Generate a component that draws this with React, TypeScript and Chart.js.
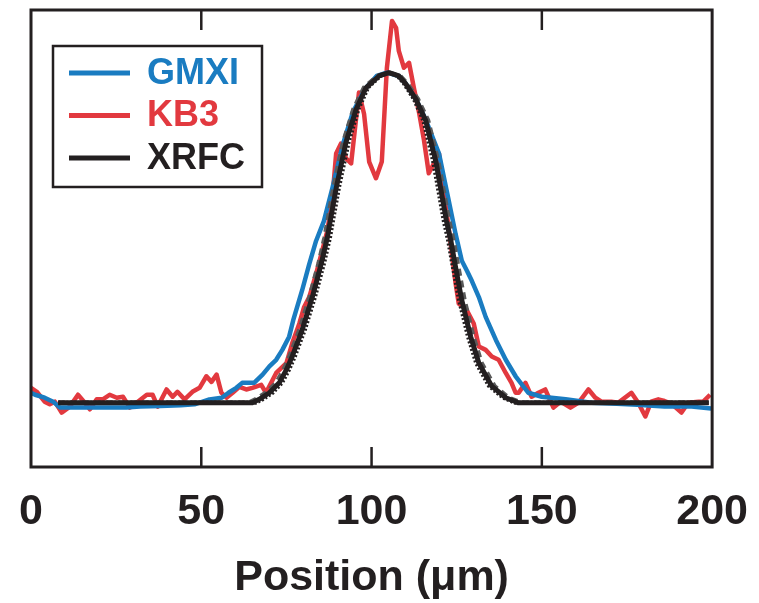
import React, { useEffect, useRef } from 'react';
import { Chart, registerables } from 'chart.js';

Chart.register(...registerables);

// x-axis tick values (µm)
const xTickValues = [0, 50, 100, 150, 200];

// GMXI profile
const gmxiX = [0, 1.2, 4, 6.5, 8.5, 12, 20, 28, 32, 38, 44, 48, 52.4, 56, 58, 60.3, 62, 65.5, 68, 70, 72, 73.8, 75.8, 77, 79.6, 81.7, 83.7, 86, 88.5, 91.5, 94.5, 98, 101.5, 104.5, 108, 110, 113, 116, 119.8, 122.5, 124.7, 126.5, 128, 129.4, 131.5, 133.5, 136.5, 139.4, 142.3, 146, 150, 157, 164.5, 172, 178, 186, 194, 199.7];
const gmxiY = [0.03, 0.024, 0.015, 0.003, -0.015, -0.015, -0.015, -0.015, -0.012, -0.01, -0.008, -0.005, 0.01, 0.015, 0.03, 0.045, 0.06, 0.06, 0.085, 0.11, 0.13, 0.16, 0.2, 0.25, 0.34, 0.42, 0.49, 0.55, 0.65, 0.78, 0.88, 0.95, 0.99, 1.0, 0.99, 0.967, 0.92, 0.855, 0.755, 0.62, 0.51, 0.43, 0.4, 0.37, 0.32, 0.26, 0.19, 0.13, 0.08, 0.03, 0.018, 0.01, 0, -0.003, -0.006, -0.012, -0.012, -0.018];

// KB3 profile
const kb3X = [0, 1.7, 4, 5.5, 7, 9, 11.4, 13.8, 15.8, 17.3, 19.3, 21.1, 23.1, 25.2, 27, 29, 31, 34, 35.7, 37.2, 39.8, 41.6, 43, 45.1, 47.4, 49.5, 51.5, 53, 54.5, 55.9, 57.4, 59.2, 61.2, 63.2, 65, 67.6, 69, 72, 75, 76.7, 78.8, 80.2, 81.7, 83.7, 85.5, 87, 88.5, 89.6, 91, 92.5, 94, 96.3, 97.8, 99.3, 101.3, 103, 104.5, 106, 107.2, 108, 109.5, 111, 112.4, 114, 115.4, 116.8, 118.3, 119.8, 121.5, 123, 124.7, 125.6, 127.7, 130, 131.5, 133.5, 135.3, 137.3, 139.4, 141.1, 142.3, 143.2, 145.2, 147, 149, 151, 153.4, 155.5, 158.4, 160.8, 163.7, 165.7, 167.5, 170.4, 172.5, 176.3, 178.3, 180.4, 182.1, 184.2, 186, 188, 191, 193, 196, 197.4, 199.4];
const kb3Y = [0.045, 0.033, 0.003, -0.005, 0.003, -0.03, -0.012, 0.024, 0, -0.02, 0.01, 0.01, 0.024, 0.015, 0.018, -0.015, 0, 0.024, 0.024, -0.012, 0.04, 0.018, 0.033, 0.01, 0.033, 0.045, 0.08, 0.063, 0.085, 0.03, 0.015, 0.03, 0.048, 0.04, 0.045, 0.054, 0.03, 0.09, 0.12, 0.18, 0.24, 0.29, 0.32, 0.39, 0.46, 0.52, 0.62, 0.755, 0.785, 0.74, 0.725, 0.94, 0.875, 0.73, 0.68, 0.73, 1.015, 1.157, 1.136, 1.066, 1.015, 1.03, 0.955, 0.876, 0.795, 0.695, 0.725, 0.755, 0.62, 0.5, 0.36, 0.3, 0.285, 0.24, 0.17, 0.16, 0.14, 0.13, 0.09, 0.06, 0.03, 0.03, 0.06, 0.018, 0.03, 0.04, -0.015, 0.003, -0.015, 0, 0.04, 0.015, 0.003, 0.003, 0, 0.03, 0, -0.042, 0.003, 0.01, 0.005, -0.003, -0.03, 0, 0.003, 0.003, 0.024];

// XRFC profile
const xrfcX = [8, 20, 40, 60, 65, 67, 70, 72.9, 75, 76.7, 79.6, 82.6, 85.2, 87, 89.6, 92.5, 95.5, 98.4, 102.2, 105.1, 108, 110, 113, 115.9, 118.9, 122, 123.3, 124.5, 126.5, 129.1, 131.5, 135.3, 139.4, 143, 160, 180, 199];
const xrfcY = [0, 0, 0, 0, 0, 0.01, 0.03, 0.06, 0.1, 0.14, 0.22, 0.32, 0.42, 0.5, 0.65, 0.79, 0.89, 0.955, 0.99, 1.0, 0.99, 0.967, 0.92, 0.855, 0.73, 0.55, 0.49, 0.42, 0.31, 0.2, 0.12, 0.05, 0.015, 0, 0, 0, 0];

// Fit curves (dashed grey, dotted black)
const fitDashX = [8, 64, 66, 69, 72, 74.2, 75.9, 78.8, 81.8, 84.4, 86.2, 88.8, 91.7, 94.7, 97.8, 101.8, 105.1, 108.4, 110.5, 113.6, 116.6, 119.6, 122.8, 124.1, 125.3, 127.3, 129.9, 132.3, 136.1, 140.2, 144, 199];
const fitDashY = [0, 0, 0.01, 0.03, 0.06, 0.1, 0.14, 0.22, 0.32, 0.42, 0.5, 0.65, 0.79, 0.89, 0.955, 0.99, 1.0, 0.99, 0.967, 0.92, 0.855, 0.73, 0.55, 0.49, 0.42, 0.31, 0.2, 0.12, 0.05, 0.015, 0, 0];
const fitDotX = [8, 66, 68, 71, 73.7, 75.8, 77.5, 80.4, 83.4, 86, 87.8, 90.4, 93.3, 96.2, 99, 102.6, 105.1, 107.6, 109.5, 112.4, 115.2, 118.1, 121.2, 122.5, 123.7, 125.7, 128.3, 130.7, 134.5, 138.6, 142, 199];
const fitDotY = [0, 0, 0.01, 0.03, 0.06, 0.1, 0.14, 0.22, 0.32, 0.42, 0.5, 0.65, 0.79, 0.89, 0.955, 0.99, 1.0, 0.99, 0.967, 0.92, 0.855, 0.73, 0.55, 0.49, 0.42, 0.31, 0.2, 0.12, 0.05, 0.015, 0, 0];

const legendLabels = ['GMXI', 'KB3', 'XRFC'];
const legendColors = ['#1a7cc1', '#e2393f', '#231f20'];

const pts = (xs: number[], ys: number[]) => xs.map((x, i) => ({ x, y: ys[i] }));

const INK = '#231f20';
const AXIS_FONT = '"Liberation Sans", Arial, Helvetica, sans-serif';

const framePlugin = {
  id: 'frameAndTicks',
  afterDraw(chart: any) {
    const { ctx, chartArea } = chart;
    const xs = chart.scales.x;
    ctx.save();
    ctx.strokeStyle = INK;
    ctx.lineWidth = 3;
    ctx.strokeRect(chartArea.left, chartArea.top, chartArea.right - chartArea.left, chartArea.bottom - chartArea.top);
    ctx.lineWidth = 2.5;
    xTickValues.forEach((v) => {
      if (v === xs.min || v === xs.max) return;
      const px = xs.getPixelForValue(v);
      ctx.beginPath();
      ctx.moveTo(px, chartArea.top);
      ctx.lineTo(px, chartArea.top + 20);
      ctx.moveTo(px, chartArea.bottom);
      ctx.lineTo(px, chartArea.bottom - 20);
      ctx.stroke();
    });
    // legend
    const bx = chartArea.left + 22;
    const by = chartArea.top + 36;
    ctx.lineWidth = 2.5;
    ctx.strokeStyle = INK;
    ctx.fillStyle = '#ffffff';
    ctx.fillRect(bx, by, 209, 141);
    ctx.strokeRect(bx, by, 209, 141);
    legendLabels.forEach((label, i) => {
      const y = by + 27 + i * 42.5;
      ctx.strokeStyle = legendColors[i];
      ctx.lineWidth = 5;
      ctx.beginPath();
      ctx.moveTo(bx + 16, y);
      ctx.lineTo(bx + 77, y);
      ctx.stroke();
      ctx.fillStyle = legendColors[i];
      ctx.font = `bold 36px ${AXIS_FONT}`;
      ctx.textBaseline = 'middle';
      ctx.textAlign = 'left';
      ctx.fillText(label, bx + 94, y + 1);
    });
    ctx.restore();
  },
};

export default function App() {
  const canvasRef = useRef<HTMLCanvasElement | null>(null);

  useEffect(() => {
    if (!canvasRef.current) return;
    const chart = new Chart(canvasRef.current, {
      type: 'line',
      data: {
        datasets: [
          { label: 'XRFC', data: pts(xrfcX, xrfcY), borderColor: legendColors[2], borderWidth: 5, order: 0 },
          { label: 'fit-dot', data: pts(fitDotX, fitDotY), borderColor: '#231f20', borderWidth: 4, borderDash: [2, 2], order: 1 },
          { label: 'fit-dash', data: pts(fitDashX, fitDashY), borderColor: '#5a5a5a', borderWidth: 4.5, borderDash: [7, 5], order: 2 },
          { label: 'GMXI', data: pts(gmxiX, gmxiY), borderColor: legendColors[0], borderWidth: 4.5, order: 3 },
          { label: 'KB3', data: pts(kb3X, kb3Y), borderColor: legendColors[1], borderWidth: 4.5, order: 4 },
        ],
      },
      options: {
        animation: false,
        responsive: false,
        devicePixelRatio: 1,
        layout: { padding: { left: 31, right: 46, top: 10, bottom: 0 } },
        elements: {
          point: { radius: 0, hoverRadius: 0 },
          line: { tension: 0, borderJoinStyle: 'round', borderCapStyle: 'butt', fill: false },
        },
        plugins: { legend: { display: false }, tooltip: { enabled: false } },
        scales: {
          x: {
            type: 'linear',
            min: 0,
            max: 200,
            afterBuildTicks: (axis: any) => {
              axis.ticks = xTickValues.map((v) => ({ value: v }));
            },
            afterFit: (scale: any) => {
              scale.height = 136;
            },
            grid: { display: false },
            border: { display: false },
            ticks: {
              color: INK,
              font: { family: AXIS_FONT, size: 43, weight: 'bold', lineHeight: 1.2 },
              padding: 11,
              maxRotation: 0,
              autoSkip: false,
            },
            title: {
              display: true,
              text: 'Position (μm)',
              color: INK,
              font: { family: AXIS_FONT, size: 43, weight: 'bold', lineHeight: 1.0 },
              padding: { top: 10, bottom: 3 },
            },
          },
          y: { display: false, min: -0.195, max: 1.19 },
        },
      },
      plugins: [framePlugin],
    } as any);
    return () => chart.destroy();
  }, []);

  return (
    <div style={{ position: 'absolute', left: 0, top: 0, width: 759, height: 603, background: '#fff' }}>
      <canvas ref={canvasRef} width={759} height={603} style={{ width: 759, height: 603, display: 'block' }} />
    </div>
  );
}
